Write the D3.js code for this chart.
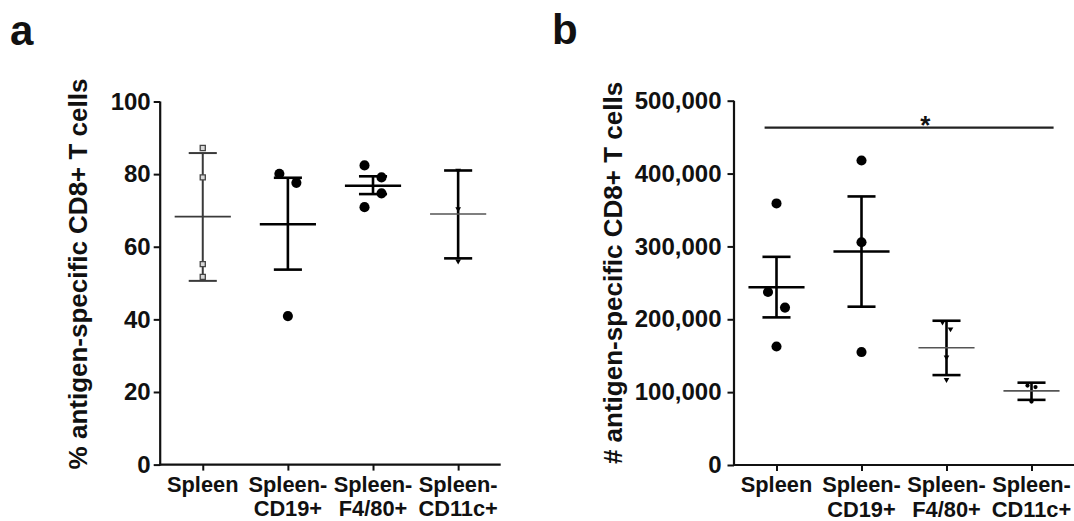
<!DOCTYPE html>
<html>
<head>
<meta charset="utf-8">
<script src="https://cdn.jsdelivr.net/npm/d3@7/dist/d3.min.js"></script>
<style>
  html, body { margin: 0; padding: 0; background: #fff; }
  svg { display: block; }
  text { font-family: "Liberation Sans", Arial, sans-serif; font-weight: bold; fill: #111; }
</style>
</head>
<body>
<svg id="chart" width="1074" height="521"></svg>
<script>
// ---------------- data ----------------
const categories = ["Spleen", "Spleen-CD19+", "Spleen-F4/80+", "Spleen-CD11c+"];
const categoryLines = [["Spleen"], ["Spleen-", "CD19+"], ["Spleen-", "F4/80+"], ["Spleen-", "CD11c+"]];

// panel a: % antigen-specific CD8+ T cells
const pctTicks = [0, 20, 40, 60, 80, 100];
const pctPoints = [
  [87.2, 79.1, 55.2, 51.7],
  [80.1, 77.6, 40.9],
  [82.4, 79.1, 74.7, 70.9],
  [81.0, 70.4, 56.0]
];
const pctMean  = [68.3, 66.2, 76.8, 69.0];
const pctUpper = [85.8, 79.0, 79.4, 81.0];
const pctLower = [50.6, 53.7, 74.5, 56.8];

// panel b: # antigen-specific CD8+ T cells
const numTicks = [0, 100000, 200000, 300000, 400000, 500000];
const numPoints = [
  [359000, 237500, 216000, 162700],
  [418000, 305800, 155000],
  [196000, 186600, 148000, 117000],
  [109000, 106900, 87000]
];
const numMean  = [243900, 293000, 161000, 101800];
const numUpper = [285700, 368600, 198000, 113000];
const numLower = [202600, 217300, 123400, 89400];

// significance annotation (panel b)
const sigFrom = "Spleen";
const sigTo = "Spleen-CD11c+";
const sigLevel = 463000;
const sigLabel = "*";

// ---------------- styles ----------------
const styleA = [
  { shape: "square", size: 26, fill: "#d8d8d8", stroke: "#444", sw: 1.3, line: "#3a3a3a", errW: 2, meanW: 1.6, meanColor: "#3a3a3a", small: true },
  { shape: "circle", size: 80, fill: "#000", stroke: "none", sw: 0, line: "#000", errW: 2.6, meanW: 2.6, meanColor: "#000", small: false },
  { shape: "circle", size: 80, fill: "#000", stroke: "none", sw: 0, line: "#000", errW: 2.6, meanW: 2.6, meanColor: "#000", small: false },
  { shape: "triangle", size: 14, fill: "#000", stroke: "none", sw: 0, line: "#000", errW: 2.6, meanW: 1.6, meanColor: "#555", small: true }
];
const styleB = [
  { shape: "circle", size: 80, fill: "#000", stroke: "none", sw: 0, line: "#000", errW: 2.6, meanW: 2.6, meanColor: "#000", small: false },
  { shape: "circle", size: 80, fill: "#000", stroke: "none", sw: 0, line: "#000", errW: 2.6, meanW: 2.6, meanColor: "#000", small: false },
  { shape: "triangle", size: 14, fill: "#000", stroke: "none", sw: 0, line: "#000", errW: 2.6, meanW: 1.6, meanColor: "#555", small: true },
  { shape: "circle", size: 14, fill: "#000", stroke: "none", sw: 0, line: "#000", errW: 2.6, meanW: 1.6, meanColor: "#555", small: true }
];

const svg = d3.select("#chart");

function symbolFor(st) {
  if (st.shape === "square") return d3.symbol().type(d3.symbolSquare).size(st.size)();
  if (st.shape === "triangle") return d3.symbol().type(d3.symbolTriangle).size(st.size)();
  return d3.symbol().type(d3.symbolCircle).size(st.size)();
}

// cluster-based jitter: points closer than threshold px are spread left/right
function jitter(values, y, threshold, step) {
  const idx = values.map((v, i) => i).sort((a, b) => values[b] - values[a]);
  const off = new Array(values.length).fill(0);
  let cluster = [idx[0]];
  const flush = () => {
    if (cluster.length > 1) {
      cluster.forEach((k, i) => {
        const s = ((i + Math.floor(i / 2)) % 2 === 0) ? -1 : 1;
        off[k] = s * step;
      });
    }
  };
  for (let j = 1; j < idx.length; j++) {
    const prev = idx[j - 1], cur = idx[j];
    if (Math.abs(y(values[cur]) - y(values[prev])) < threshold) cluster.push(cur);
    else { flush(); cluster = [cur]; }
  }
  flush();
  return off;
}

function drawPanel(cfg) {
  const g = svg.append("g");
  const x = d3.scalePoint().domain(categories).range([cfg.x0, cfg.x1]).padding(0.5);
  const y = d3.scaleLinear().domain(cfg.domain).range([cfg.yBottom, cfg.yTop]);
  const step = x.step();

  // y axis
  const yAxis = d3.axisLeft(y).tickValues(cfg.ticks).tickSize(6.5).tickSizeOuter(0)
    .tickPadding(cfg.tickPad).tickFormat(cfg.fmt);
  const ya = g.append("g").attr("transform", `translate(${cfg.x0},0)`).call(yAxis);
  ya.select(".domain").attr("stroke", "#111").attr("stroke-width", 2.2)
    .attr("d", `M0,${cfg.yBottom + 1}V${cfg.yTop}`);
  ya.selectAll(".tick line").attr("stroke", "#111").attr("stroke-width", 2);
  ya.selectAll(".tick text").attr("font-size", 24).attr("font-weight", "bold")
    .attr("font-family", '"Liberation Sans", Arial, sans-serif').attr("fill", "#111");

  // x axis
  const xAxis = d3.axisBottom(x).tickSize(6).tickSizeOuter(0).tickFormat("");
  const xa = g.append("g").attr("transform", `translate(0,${cfg.yBottom})`).call(xAxis);
  xa.select(".domain").attr("stroke", "#111").attr("stroke-width", 2.2)
    .attr("d", `M${cfg.x0 - 1},0H${cfg.x1}`);
  xa.selectAll(".tick line").attr("stroke", "#111").attr("stroke-width", 2);
  categories.forEach((c, i) => {
    const t = g.append("text").attr("text-anchor", "middle").attr("font-size", 21.8)
      .attr("x", x(c)).attr("y", cfg.yBottom + 27);
    categoryLines[i].forEach((ln, k) => {
      t.append("tspan").attr("x", x(c)).attr("dy", k === 0 ? 0 : 24.5).text(ln);
    });
  });

  // y title
  g.append("text").attr("text-anchor", "middle").attr("font-size", 26)
    .attr("transform", `translate(${cfg.titleX},${cfg.titleY}) rotate(-90)`)
    .text(cfg.title);

  // panel letter
  g.append("text").attr("x", cfg.letterX).attr("y", cfg.letterY)
    .attr("font-family", '"Open Sans", "DejaVu Sans", sans-serif')
    .attr("font-weight", 700).attr("font-size", 42).attr("fill", "#000").text(cfg.letter);

  // groups
  categories.forEach((c, i) => {
    const st = cfg.styles[i];
    const cx = x(c);
    const gg = g.append("g");
    const meanHalf = step * 0.33, capHalf = step * 0.165;
    // error bar
    gg.append("line").attr("x1", cx).attr("x2", cx)
      .attr("y1", y(cfg.upper[i])).attr("y2", y(cfg.lower[i]))
      .attr("stroke", st.line).attr("stroke-width", st.errW);
    [cfg.upper[i], cfg.lower[i]].forEach(v => {
      gg.append("line").attr("x1", cx - capHalf).attr("x2", cx + capHalf)
        .attr("y1", y(v)).attr("y2", y(v))
        .attr("stroke", st.line).attr("stroke-width", st.errW);
    });
    // mean
    gg.append("line").attr("x1", cx - meanHalf).attr("x2", cx + meanHalf)
      .attr("y1", y(cfg.mean[i])).attr("y2", y(cfg.mean[i]))
      .attr("stroke", st.meanColor).attr("stroke-width", st.meanW);
    // points
    const vals = cfg.points[i];
    const off = st.small ? jitter(vals, y, 10, 4) : jitter(vals, y, 17, 8.5);
    const path = symbolFor(st);
    vals.forEach((v, k) => {
      gg.append("path").attr("d", path)
        .attr("transform", `translate(${cx + off[k]},${y(v)})` + (st.shape === "triangle" ? " rotate(180)" : ""))
        .attr("fill", st.fill).attr("stroke", st.stroke).attr("stroke-width", st.sw);
    });
  });

  return { x, y };
}

drawPanel({
  x0: 160.2, x1: 500.7, yBottom: 464.6, yTop: 101.5, domain: [0, 100],
  ticks: pctTicks, fmt: d3.format("d"), tickPad: 3,
  points: pctPoints, mean: pctMean, upper: pctUpper, lower: pctLower,
  styles: styleA,
  title: "% antigen-specific CD8+ T cells", titleX: 87, titleY: 274,
  letter: "a", letterX: 10, letterY: 44.5
});

const pb = drawPanel({
  x0: 734, x1: 1074, yBottom: 465, yTop: 100.7, domain: [0, 500000],
  ticks: numTicks, fmt: d3.format(","), tickPad: 6,
  points: numPoints, mean: numMean, upper: numUpper, lower: numLower,
  styles: styleB,
  title: "# antigen-specific CD8+ T cells", titleX: 622, titleY: 273,
  letter: "b", letterX: 552, letterY: 43.5
});

// significance bar
{
  const step = pb.x.step();
  const xs = pb.x(sigFrom) - step * 0.14;
  const xe = pb.x(sigTo) + step * 0.26;
  svg.append("line").attr("x1", xs).attr("x2", xe)
    .attr("y1", pb.y(sigLevel)).attr("y2", pb.y(sigLevel))
    .attr("stroke", "#222").attr("stroke-width", 2.2);
  svg.append("text").attr("text-anchor", "middle").attr("font-size", 26)
    .attr("x", pb.x("Spleen-F4/80+") - step * 0.25).attr("y", pb.y(sigLevel) + 6)
    .text(sigLabel);
}
</script>
</body>
</html>
